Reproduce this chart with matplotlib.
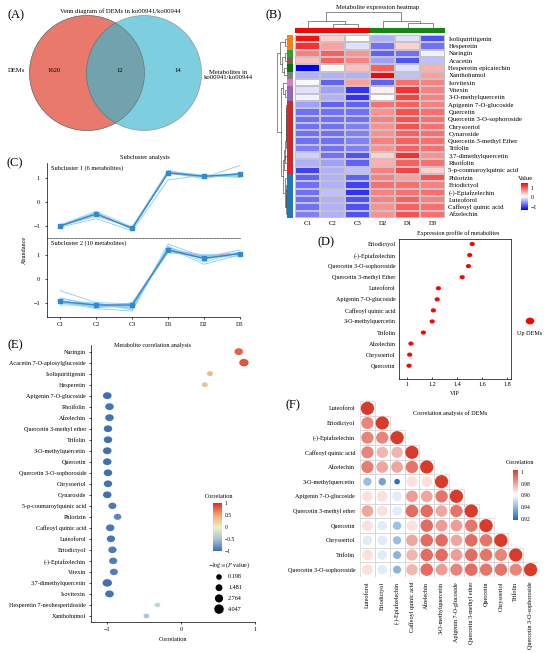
import numpy as np
import matplotlib
matplotlib.use('Agg')
import matplotlib.pyplot as plt
from matplotlib.patches import Circle, Rectangle
from matplotlib.colors import LinearSegmentedColormap, ListedColormap, Normalize
from matplotlib.path import Path
from matplotlib.transforms import Affine2D
import matplotlib.cm as cm

plt.rcParams['font.family'] = ['Liberation Serif', 'DejaVu Serif']
plt.rcParams['mathtext.fontset'] = 'stix'
plt.rcParams['font.size'] = 4.4
plt.rcParams['axes.linewidth'] = 0.5
plt.rcParams['xtick.major.width'] = 0.5
plt.rcParams['ytick.major.width'] = 0.5
plt.rcParams['xtick.major.size'] = 1.5
plt.rcParams['ytick.major.size'] = 1.5
plt.rcParams['xtick.labelsize'] = 4.4
plt.rcParams['ytick.labelsize'] = 4.4

# ======================= DATA =======================
# (A) Venn
venn_labels = ['DEMs', 'Metabolites in\nko00941/ko00944']
venn_counts = [1620, 12, 14]   # left only, overlap, right only

# (B) Heatmap
hm_rows = ['Isoliquiritigenin', 'Hesperetin', 'Naringin', 'Acacetin', 'Hesperetin epicatechin',
           'Xanthohumol', 'Isovitexin', 'Vitexin', '3-O-methylquercetin', 'Apigenin 7-O-glucoside',
           'Quercetin', 'Quercetin 3-O-sophoroside', 'Chrysoeriol', 'Cynaroside',
           'Quercetin 3-methyl Ether', 'Trifolin', '3,7-dimethylquercetin', 'Rhoifolin',
           '5-p-coumaroylquinic acid', 'Phlorizin', 'Eriodictyol', '(-)-Epiafzelechin',
           'Luteoforol', 'Caffeoyl quinic acid', 'Afzelechin']
hm_cols = ['C1', 'C2', 'C3', 'D2', 'D1', 'D3']
hm_values = np.array([
    [1.5, 0.3, 0.0, -0.5, -0.2, -1.1],
    [1.3, 0.6, -0.2, -0.9, 0.3, -0.9],
    [0.8, 1.0, 0.7, -1.0, -0.9, -0.1],
    [0.4, 1.0, 0.8, -0.6, -1.1, -0.4],
    [-1.6, 0.05, 0.4, 1.0, -0.2, 0.5],
    [-0.5, -0.5, -0.5, 1.6, -0.4, 0.6],
    [-0.05, -1.0, 0.6, -1.0, 0.9, 0.8],
    [-0.2, -0.6, -1.3, 0.1, 1.3, 0.8],
    [-0.1, -0.5, -1.3, 0.0, 1.2, 0.8],
    [-0.6, -1.0, -1.0, 0.9, 1.0, 0.8],
    [-0.9, -0.9, -0.9, 0.7, 1.1, 0.9],
    [-0.9, -0.9, -0.9, 0.8, 1.1, 0.9],
    [-0.9, -0.9, -0.8, 0.7, 1.1, 0.9],
    [-0.9, -0.9, -0.8, 0.7, 1.0, 0.9],
    [-0.9, -0.9, -0.8, 0.8, 1.0, 0.9],
    [-0.8, -0.9, -0.8, 0.7, 1.0, 0.9],
    [-0.3, -0.9, -1.1, 0.3, 1.3, 0.7],
    [-0.5, -0.6, -1.0, 0.5, 1.0, 0.9],
    [-1.2, -0.5, -0.4, 0.8, 1.2, 0.3],
    [-1.0, -0.5, -1.0, 0.8, 0.6, 1.1],
    [-0.9, -0.5, -1.2, 0.9, 0.9, 0.8],
    [-0.9, -0.4, -1.3, 0.8, 0.9, 0.9],
    [-0.9, -0.5, -1.1, 0.8, 1.0, 0.8],
    [-0.9, -0.5, -1.1, 0.7, 1.0, 0.9],
    [-0.8, -0.5, -1.1, 0.7, 1.1, 0.9],
])
hm_row_groups = [0, 0, 1, 2, 3, 4, 5, 6, 6, 7, 7, 7, 7, 7, 7, 7, 7, 7, 8, 9, 9, 9, 9, 9, 9]
hm_group_colors = ['#FF7F0E', '#2CA02C', '#8C564B', '#007A00', '#7F7F7F', '#E377C2',
                   '#9467BD', '#D62728', '#FF1A1A', '#1F77B4']
hm_col_groups = [0, 0, 0, 1, 1, 1]
hm_col_colors = ['#FF0000', '#118811']
# dendrograms: (left, right, height)
col_tree = ((0, (1, 2, 4.0), 7.0), (3, (4, 5, 5.0), 7.0), 15.0)
reds = ((((((((9, 10, 0.6), 11, 0.7), 12, 0.7), 13, 0.8), 14, 0.9), 15, 1.0), (16, 17, 1.4), 1.9), 18, 2.6)
blues = (19, ((((20, 21, 0.5), 22, 0.7), 23, 0.8), 24, 1.0), 1.8)
row_tree = (((0, 1, 2.0), ((2, 3, 2.0), (4, 5, 2.5), 4.0), 6.0),
            ((6, (7, 8, 1.5), 3.0), (reds, blues, 3.5), 5.0), 8.0)

# (C) Subclusters
sub_x_labels = ['C1', 'C2', 'C3', 'D1', 'D2', 'D3']
sub1_lines = [
    [-0.95, -0.40, -1.05, 1.30, 1.00, 1.50],
    [-1.05, -0.70, -1.20, 0.90, 1.10, 1.00],
    [-1.00, -0.55, -1.10, 1.25, 1.10, 1.10],
    [-0.98, -0.45, -1.15, 1.20, 0.95, 1.20],
    [-1.02, -0.50, -1.10, 1.20, 1.05, 1.05],
]
sub1_pink = [-1.00, -0.60, -1.05, 1.15, 1.05, 1.10]
sub1_mean = [-1.00, -0.50, -1.10, 1.20, 1.05, 1.15]
sub2_lines = [
    [-0.50, -1.00, -1.30, 1.45, 0.90, 1.20],
    [-0.80, -1.15, -1.20, 1.30, 0.60, 1.00],
    [-1.05, -1.00, -1.05, 1.10, 0.95, 1.10],
    [-1.00, -1.25, -1.35, 1.35, 0.70, 1.10],
    [-0.90, -1.20, -1.00, 1.20, 1.00, 1.00],
    [-1.10, -1.10, -1.10, 1.15, 0.85, 1.05],
    [-0.95, -1.20, -1.15, 1.25, 0.80, 1.10],
    [-0.85, -1.05, -1.25, 1.30, 0.90, 0.95],
    [-1.00, -1.15, -1.10, 1.10, 0.90, 1.05],
]
sub2_pink = [-0.95, -1.10, -1.05, 1.20, 0.95, 1.05]
sub2_mean = [-0.95, -1.10, -1.10, 1.20, 0.85, 1.05]

# (D) VIP
vip_names = ['Eriodictyol', '(-)-Epiafzelechin', 'Quercetin 3-O-sophoroside', 'Quercetin 3-methyl Ether',
             'Luteoforol', 'Apigenin 7-O-glucoside', 'Caffeoyl quinic acid', '3-O-methylquercetin',
             'Trifolin', 'Afzelechin', 'Chrysoeriol', 'Quercetin']
vip_values = [1.52, 1.50, 1.49, 1.44, 1.25, 1.24, 1.21, 1.20, 1.13, 1.03, 1.02, 1.015]

# (E) correlation
e_names = ['Naringin', 'Acacetin 7-O-apiosylglucoside', 'Isoliquiritigenin', 'Hesperetin',
           'Apigenin 7-O-glucoside', 'Rhoifolin', 'Afzelechin', 'Quercetin 3-methyl ether', 'Trifolin',
           '3-O-methylquercetin', 'Quercetin', 'Quercetin 3-O-sophoroside', 'Chrysoeriol', 'Cynaroside',
           '5-p-coumaroylquinic acid', 'Phlorizin', 'Caffeoyl quinic acid', 'Luteoforol', 'Eriodictyol',
           '(-)-Epiafzelechin', 'Vitexin', '3,7-dimethylquercetin', 'Isovitexin',
           'Hesperetin 7-neohesperidoside', 'Xanthohumol']
e_corr = [0.78, 0.85, 0.39, 0.32, -1.00, -0.97, -0.97, -0.99, -0.99, -1.00, -1.00, -0.99, -0.99,
          -1.00, -0.93, -0.86, -0.96, -0.95, -0.93, -0.92, -0.91, -1.00, -0.97, -0.32, -0.47]
e_logp = [3.2, 4.0, 0.6, 0.5, 3.2, 3.2, 3.2, 3.1, 3.1, 3.2, 3.1, 3.1, 3.0, 3.1, 2.6, 2.2, 3.1, 3.0,
          2.9, 2.8, 2.6, 4.0, 3.3, 0.3, 0.5]
e_size_legend = [0.198, 1.481, 2.764, 4.047]

# (F) correlation matrix (lower triangle)
f_names = ['Luteoforol', 'Eriodictyol', '(-)-Epiafzelechin', 'Caffeoyl quinic acid', 'Afzelechin',
           '3-O-methylquercetin', 'Apigenin 7-O-glucoside', 'Quercetin 3-methyl ether', 'Quercetin',
           'Chrysoeriol', 'Trifolin', 'Quercetin 3-O-sophoroside']
f_lower = [
    [1.0],
    [0.985, 1.0],
    [0.985, 0.985, 1.0],
    [0.985, 0.975, 0.975, 1.0],
    [0.986, 0.978, 0.978, 0.988, 1.0],
    [0.942, 0.935, 0.922, 0.966, 0.966, 1.0],
    [0.966, 0.966, 0.955, 0.980, 0.978, 0.988, 1.0],
    [0.978, 0.966, 0.955, 0.990, 0.990, 0.978, 0.988, 1.0],
    [0.966, 0.955, 0.943, 0.966, 0.990, 0.980, 0.980, 0.988, 1.0],
    [0.955, 0.955, 0.942, 0.978, 0.990, 0.990, 0.978, 0.990, 0.988, 1.0],
    [0.966, 0.955, 0.940, 0.975, 0.990, 0.990, 0.980, 0.990, 0.988, 0.985, 1.0],
    [0.966, 0.955, 0.940, 0.975, 0.990, 0.980, 0.985, 0.990, 0.988, 0.988, 0.985, 1.0],
]

# ======================= FIGURE =======================
W, H = 550, 653
fig = plt.figure(figsize=(5.5, 6.53), dpi=100)
fig.patch.set_facecolor('white')


def ax_px(x0, y0, x1, y1):
    return fig.add_axes([x0 / W, 1 - y1 / H, (x1 - x0) / W, (y1 - y0) / H])


def ftext(x, y, s, **kw):
    kw.setdefault('ha', 'center')
    kw.setdefault('va', 'center')
    fig.text(x / W, 1 - y / H, s, **kw)


ell_marker = Path.unit_circle().transformed(Affine2D().scale(1.25, 1.0))

# ---------- (A) ----------
axA = ax_px(0, 0, 275, 160)
axA.set_xlim(0, 275); axA.set_ylim(160, 0); axA.axis('off')
c1 = Circle((87, 73), 57.5, facecolor='#E8796B', edgecolor='#8A8A8A', lw=0.4)
c2 = Circle((144, 73), 57.5, facecolor='#7DCFE0', edgecolor='#8A8A8A', lw=0.4)
axA.add_patch(c1); axA.add_patch(c2)
c3 = Circle((144, 73), 57.5, facecolor='#72A2AC', edgecolor='#6A6A6A', lw=0.4)
axA.add_patch(c3); c3.set_clip_path(c1)
c4 = Circle((87, 73), 57.5, facecolor='none', edgecolor='#6A6A6A', lw=0.4)
axA.add_patch(c4)
axA.text(54, 71, str(venn_counts[0]), ha='center', va='center', fontsize=4.8)
axA.text(120, 71, str(venn_counts[1]), ha='center', va='center', fontsize=4.8)
axA.text(178, 71, str(venn_counts[2]), ha='center', va='center', fontsize=4.8)
axA.text(16, 71, venn_labels[0], ha='center', va='center', fontsize=4.8)
axA.text(228, 75, venn_labels[1], ha='center', va='center', linespacing=1.2, fontsize=4.8)
ftext(120, 11, 'Venn diagram of DEMs in ko00941/ko00944', fontsize=4.8)
ftext(16, 15, '(A)', fontsize=9)

# ---------- (B) ----------
cmap_B = LinearSegmentedColormap.from_list('bwr2', ['#0000FF', '#FFFFFF', '#FF0000'])
normB = Normalize(-1.6, 1.6)
axh = ax_px(295, 35, 445, 218)
axh.pcolormesh(hm_values, cmap=cmap_B, norm=normB, edgecolors='#C4C4C4', linewidth=0.3)
axh.set_xlim(0, 6); axh.set_ylim(25, 0)
for s in axh.spines.values():
    s.set_visible(False)
axh.yaxis.tick_right()
axh.set_yticks(np.arange(25) + 0.5)
axh.set_yticklabels(hm_rows)
axh.set_xticks(np.arange(6) + 0.5)
axh.set_xticklabels(hm_cols)
axh.tick_params(length=0, pad=2.5, labelsize=4.9)

axcb = ax_px(295, 28, 445, 33)
axcb.pcolormesh(np.array([hm_col_groups]), cmap=ListedColormap(hm_col_colors), vmin=-0.5, vmax=1.5)
axcb.set_xlim(0, 6); axcb.axis('off')

axrb = ax_px(287, 35, 293, 218)
axrb.pcolormesh(np.array(hm_row_groups)[:, None], cmap=ListedColormap(hm_group_colors),
                vmin=-0.5, vmax=len(hm_group_colors) - 0.5)
axrb.set_ylim(25, 0); axrb.axis('off')


def draw_tree(ax, node, orient):
    if isinstance(node, int):
        return node + 0.5, 0.0
    l, r, h = node
    pl, hl = draw_tree(ax, l, orient)
    pr, hr = draw_tree(ax, r, orient)
    if orient == 'top':
        ax.plot([pl, pl, pr, pr], [hl, h, h, hr], color='#333333', lw=0.4)
    else:
        ax.plot([-hl, -h, -h, -hr], [pl, pl, pr, pr], color='#333333', lw=0.4)
    return (pl + pr) / 2, h


axdc = ax_px(295, 12, 445, 28)
draw_tree(axdc, col_tree, 'top')
axdc.set_xlim(0, 6); axdc.set_ylim(0, 15.3); axdc.axis('off')
axdr = ax_px(277, 35, 287, 218)
draw_tree(axdr, row_tree, 'left')
axdr.set_ylim(25, 0); axdr.set_xlim(-8.2, 0); axdr.axis('off')

caxB = ax_px(521, 183, 528, 210)
cbB = fig.colorbar(cm.ScalarMappable(norm=Normalize(-1.35, 1.5), cmap=cmap_B), cax=caxB, ticks=[-1, 0, 1])
cbB.outline.set_visible(False)
caxB.tick_params(labelsize=4.2, length=0, pad=2)
ftext(525, 178, 'Value', fontsize=4.8)
ftext(378, 7, 'Metabolite expression heatmap', fontsize=4.8)
ftext(274, 15, '(B)', fontsize=9)

# ---------- (C) ----------
xs = np.arange(len(sub_x_labels))
axc1 = ax_px(47, 163, 240, 238)
axc2 = ax_px(47, 238, 240, 317)
for ax, lines, pink, mean, ylim, lab in [
        (axc1, sub1_lines, sub1_pink, sub1_mean, (-1.5, 1.6), 'Subcluster 1 (6 metabolites)'),
        (axc2, sub2_lines, sub2_pink, sub2_mean, (-1.6, 1.7), 'Subcluster 2 (10 metabolites)')]:
    for ln in lines:
        ax.plot(xs, ln, color='#86CDF2', lw=0.6, clip_on=False)
    ax.plot(xs, pink, color='#C7A3DE', lw=0.6, clip_on=False)
    ax.plot(xs, mean, color='#2E8AD6', lw=1.0, marker='s', ms=2.2, clip_on=False)
    ax.set_ylim(*ylim); ax.set_xlim(-0.37, 5.0)
    ax.set_yticks([-1, 0, 1])
    ax.spines['top'].set_visible(False); ax.spines['right'].set_visible(False)
    ax.text(0.02, 0.93, lab, transform=ax.transAxes, ha='left', va='center', fontsize=4.6)
    ax.patch.set_alpha(0)
axc1.spines['bottom'].set_linestyle((0, (2.5, 1.5)))
axc1.spines['bottom'].set_color('#444444')
axc1.set_xticks([])
axc2.set_xticks(xs)
axc2.set_xticklabels(sub_x_labels)
axc2.tick_params(axis='x', pad=2)
ftext(24, 250, 'Abundance', rotation=90)
ftext(145, 157, 'Subcluster analysis', fontsize=4.6)
ftext(15, 163, '(C)', fontsize=9)

# ---------- (D) ----------
axd = ax_px(399, 239, 511, 379)
axd.scatter(vip_values, np.arange(len(vip_names)), marker=ell_marker, s=(5.2 * 0.72) ** 2,
            color='#FF0000', edgecolors='none')
axd.set_ylim(12.2, -0.45); axd.set_xlim(0.935, 1.83)
axd.set_yticks(np.arange(len(vip_names)))
axd.set_yticklabels(vip_names)
axd.tick_params(axis='y', length=0, pad=2.5)
axd.set_xticks([1, 1.2, 1.4, 1.6, 1.8])
axd.set_xticklabels(['1', '1.2', '1.4', '1.6', '1.8'])
axd.tick_params(axis='x', direction='in', pad=2)
axd.set_xlabel('VIP', labelpad=3)
ftext(458, 233, 'Expression profile of metabolites')
ftext(326, 242, '(D)', fontsize=9)
axl = ax_px(510, 300, 550, 345)
axl.set_xlim(510, 550); axl.set_ylim(345, 300); axl.axis('off')
axl.scatter([530], [321], marker=ell_marker, s=(8.5 * 0.72) ** 2, color='#FF0000', edgecolors='none')
axl.text(530, 334, 'Up DEMs', ha='center', va='center')

# ---------- (E) ----------
cmap_E = LinearSegmentedColormap.from_list('ecorr', ['#3E6FB5', '#A9C5D3', '#EEF0C4', '#F4A56E', '#D7302A'])
normE = Normalize(-1, 1)
axe = ax_px(91, 345, 255, 622)
e_sizes = [((5.4 + 1.0 * v) * 0.72) ** 2 for v in e_logp]
axe.scatter(e_corr, np.arange(len(e_names)), marker=ell_marker, s=e_sizes, c=e_corr, cmap=cmap_E,
            norm=normE, edgecolors='none', clip_on=False)
axe.set_ylim(24.55, -0.6); axe.set_xlim(-1.22, 1.0)
axe.set_yticks(np.arange(len(e_names)))
axe.set_yticklabels(e_names)
axe.set_xticks([-1, 0, 1])
axe.spines['top'].set_visible(False); axe.spines['right'].set_visible(False)
axe.tick_params(axis='y', pad=2)
axe.tick_params(axis='x', pad=2)
axe.set_xlabel('Correlation', labelpad=4)
ftext(152, 346, 'Metabolite correlation analysis')
ftext(15, 345, '(E)', fontsize=9)
caxE = ax_px(213, 503, 222, 551)
cbE = fig.colorbar(cm.ScalarMappable(norm=normE, cmap=cmap_E), cax=caxE, ticks=[-1, -0.5, 0, 0.5, 1])
cbE.outline.set_visible(False)
caxE.set_yticklabels(['\u22121', '\u22120.5', '0', '0.5', '1'])
caxE.tick_params(labelsize=4, length=0, pad=2)
ftext(219, 497, 'Correlation')
ftext(229, 565, r'$-\log_{10}$($P$ value)', fontsize=4.4)
axs = ax_px(205, 570, 250, 615)
axs.set_xlim(205, 250); axs.set_ylim(615, 570); axs.axis('off')
for i, v in enumerate(e_size_legend):
    yy = 577 + i * 10.7
    axs.scatter([219], [yy], s=((5.4 + 1.0 * v) * 0.72) ** 2, color='black', edgecolors='none')
    axs.text(228, yy, f'{v:.3f}', ha='left', va='center')

# ---------- (F) ----------
cmap_F = LinearSegmentedColormap.from_list('fcorr', ['#1A6BC4', '#FFFFFF', '#DA3A2A'])
normF = Normalize(0.92, 1.0)
axf = ax_px(360, 401, 538, 577)
nF = len(f_names)
for i, row in enumerate(f_lower):
    for j, v in enumerate(row):
        axf.add_patch(Rectangle((j - 0.5, i - 0.5), 1, 1, facecolor='white', edgecolor='#C9C9C9', lw=0.4))
        r = 0.46 * np.sqrt(max(v - 0.905, 0) / 0.1)
        axf.add_patch(Circle((j, i), r, facecolor=cmap_F(normF(v)), edgecolor='none'))
axf.set_xlim(-0.5, nF - 0.5); axf.set_ylim(nF - 0.5, -0.5)
for s in axf.spines.values():
    s.set_visible(False)
axf.set_yticks(np.arange(nF)); axf.set_yticklabels(f_names)
axf.set_xticks(np.arange(nF)); axf.set_xticklabels(f_names, rotation=90, va='top')
axf.tick_params(length=0, pad=3.5)
ftext(450, 413, 'Correlation analysis of DEMs')
ftext(293, 405, '(F)', fontsize=9)
caxF = ax_px(513, 470, 518, 520)
cbF = fig.colorbar(cm.ScalarMappable(norm=Normalize(0.918, 1.003), cmap=cmap_F), cax=caxF,
                   ticks=[0.92, 0.94, 0.96, 0.98, 1.0])
cbF.outline.set_visible(False)
caxF.set_yticklabels(['0.92', '0.94', '0.96', '0.98', '1'])
caxF.tick_params(labelsize=4, length=0, pad=2)
ftext(520, 463, 'Correlation')

fig.savefig('out.png', dpi=100, facecolor='white')
